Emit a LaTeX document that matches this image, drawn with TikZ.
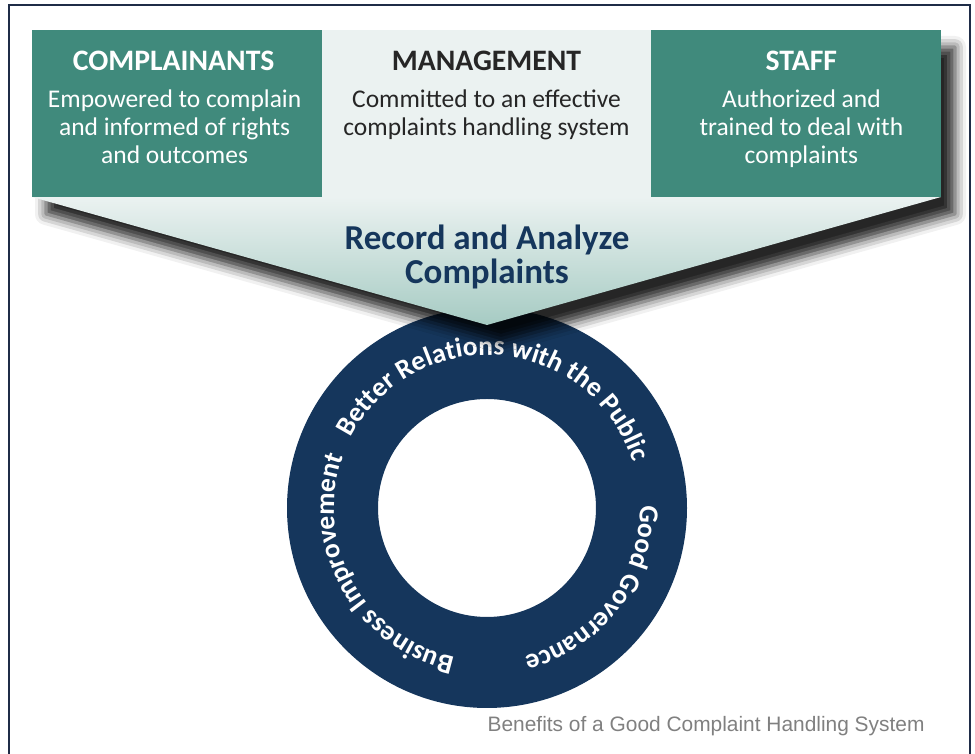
\documentclass[tikz,border=0pt]{standalone}
\usepackage{fontspec}
\setmainfont{Carlito}
\newfontfamily\captionfont{Liberation Sans}
\usetikzlibrary{positioning,calc,shadows.blur,decorations.text}
\definecolor{boxgreen}{HTML}{408A7C}
\definecolor{palegreen}{HTML}{EBF2F1}
\definecolor{sagegreen}{HTML}{A6CBC3}
\definecolor{ringblue}{HTML}{15365C}
\definecolor{framec}{HTML}{1F2C47}
\definecolor{darktext}{HTML}{262626}
\definecolor{captiongray}{HTML}{808080}
\tikzstyle{group} = [rectangle, inner sep=0pt, minimum height=167pt]
\tikzstyle{head} = [anchor=base, font=\bfseries\fontsize{29.7}{31}\selectfont]
\tikzstyle{body} = [anchor=base, align=center, font=\fontsize{25.5}{28}\selectfont]
\tikzstyle{banner} = [anchor=base, align=center, text=ringblue, font=\bfseries\fontsize{35}{34}\selectfont]
\tikzset{ringtext/.style={decorate, decoration={text along path, text align=center, text color=white,
	text={|\bfseries\fontsize{27.5}{27.5}\selectfont|#1}}}}

\begin{document}
\begin{tikzpicture}[x=1pt, y=1pt, node distance=0pt]
		\useasboundingbox (0,0) rectangle (975,754);
		\draw[framec, line width=2pt] (9,-10) rectangle (970,749);
		% ring of benefits
		\coordinate (hub) at (487,246);
		\fill[ringblue, even odd rule] (hub) circle[radius=200] (hub) circle[radius=109];
		\path[ringtext={Better Relations with the Public}] ($(hub)+(160:153)$) arc[start angle=160, end angle=10, radius=153];
		\path[ringtext={Good Governance}] ($(hub)+(12:153)$) arc[start angle=12, end angle=-87, radius=153];
		\path[ringtext={Business Improvement}] ($(hub)+(-92:153)$) arc[start angle=-92, end angle=-210, radius=153];
		% funnel
		\coordinate (tip) at (487,429);
		\path[blur shadow={shadow xshift=14pt, shadow yshift=-17pt, shadow blur radius=11pt, shadow opacity=85}]
			(32,724) -- (941,724) -- (941,557) -- (tip) -- (32,557) -- cycle;
		\shade[top color=palegreen, bottom color=sagegreen] (32,557) -- (941,557) -- (tip) -- cycle;
		\node (management) [group, fill=palegreen, minimum width=329pt] at (486.5,640.5) {};
		\node (complainants) [group, fill=boxgreen, minimum width=290pt, left=of management] {};
		\node (staff) [group, fill=boxgreen, minimum width=290pt, right=of management] {};
		\node (h1) [head, text=white] at ($(complainants.north)+(-3,-41)$) {COMPLAINANTS};
		\node (b1) [body, text=white] at ($(complainants.north)+(-2,-133.5)$) {Empowered to complain\\and informed of rights\\and outcomes};
		\node (h2) [head, text=darktext] at ($(management.north)+(0,-41)$) {MANAGEMENT};
		\node (b2) [body, text=darktext] at ($(management.north)+(0,-106)$) {Committed to an effective\\complaints handling system};
		\node (h3) [head, text=white] at ($(staff.north)+(5,-41)$) {STAFF};
		\node (b3) [body, text=white] at ($(staff.north)+(5,-133.5)$) {Authorized and\\trained to deal with\\complaints};
		\node (record) [banner] at (487,470) {Record and Analyze\\Complaints};
		\node (caption) [anchor=base east, text=captiongray, font=\captionfont\fontsize{20.9}{23}\selectfont] at (928,22) {Benefits of a Good Complaint Handling System};
\end{tikzpicture}
\end{document}
